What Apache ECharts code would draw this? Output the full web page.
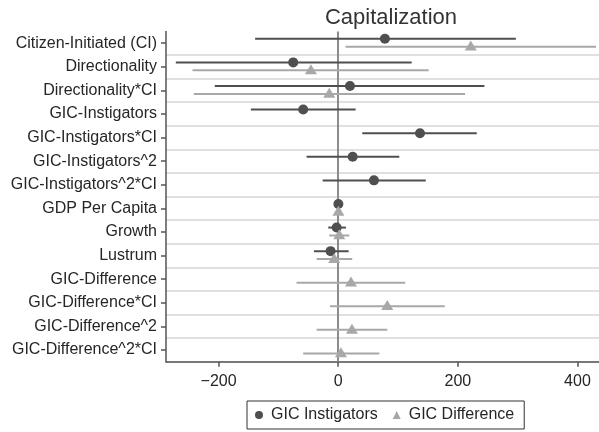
<!DOCTYPE html>
<html>
<head>
<meta charset="utf-8">
<script src="https://cdn.jsdelivr.net/npm/echarts@6/dist/echarts.min.js"></script>
<style>
  html, body { margin: 0; padding: 0; background: #fff; }
  #chart { width: 599px; height: 432px; }
</style>
</head>
<body>
<div id="chart"></div>
<script>
// Coefficient estimates with 95% confidence intervals (Capitalization model)
const categories = [
  'Citizen-Initiated (CI)', 'Directionality', 'Directionality*CI', 'GIC-Instigators',
  'GIC-Instigators*CI', 'GIC-Instigators^2', 'GIC-Instigators^2*CI', 'GDP Per Capita',
  'Growth', 'Lustrum', 'GIC-Difference', 'GIC-Difference*CI', 'GIC-Difference^2',
  'GIC-Difference^2*CI'
];

// Model with GIC Instigators
const instEst = [78, -75.3, 19.6, -58.6, 136.7, 24.1, 59.7, 0.2, -2.7, -12.8, null, null, null, null];
const instLo  = [-139, -271.6, -206.4, -146.1, 40.2, -52.9, -26.1, -1.5, -16.7, -40.7, null, null, null, null];
const instHi  = [297, 122.8, 244.4, 29.1, 231.6, 102.1, 146.3, 1.9, 12.9, 17.4, null, null, null, null];

// Model with GIC Difference
const diffEst = [221.6, -45.7, -15, null, null, null, null, 0.3, 1.7, -6.7, 21.3, 82, 22.9, 4.5];
const diffLo  = [12.4, -243.7, -241.5, null, null, null, null, -1.5, -15, -36.2, -69.7, -13.9, -36.2, -58.6];
const diffHi  = [431, 151.2, 212, null, null, null, null, 2, 18.4, 23.4, 112, 178, 82, 68.6];

const xTicks = [-200, 0, 200, 400];

const DARK = '#4f4f4f';
const LIGHT = '#a8a8a8';
const FONT = 'Liberation Sans, Arial, sans-serif';

// vertical shift of each model inside its row, as a share of the row height
const OFF_INST = -0.185;
const OFF_DIFF = 0.15;

function pointData(est) {
  const out = [];
  est.forEach((v, i) => { if (v !== null) out.push([v, i]); });
  return out;
}
function intervalData(lo, hi) {
  const out = [];
  lo.forEach((v, i) => { if (v !== null) out.push([v, hi[i], i]); });
  return out;
}
function intervalRenderer(color, shift) {
  return function (params, api) {
    const y = api.value(2);
    const a = api.coord([api.value(0), y]);
    const b = api.coord([api.value(1), y]);
    const band = api.size([0, 1])[1];
    const yy = a[1] + shift * band;
    return {
      type: 'line',
      shape: { x1: a[0], y1: yy, x2: b[0], y2: yy },
      style: { stroke: color, lineWidth: 2 }
    };
  };
}

const chart = echarts.init(document.getElementById('chart'), null, { renderer: 'canvas' });

chart.setOption({
  animation: false,
  backgroundColor: '#ffffff',
  textStyle: { fontFamily: FONT },
  title: {
    text: 'Capitalization',
    left: 386,
    textAlign: 'center',
    top: 2,
    textStyle: { fontFamily: FONT, fontSize: 22, fontWeight: 'normal', color: '#333333' }
  },
  legend: {
    data: [
      { name: 'GIC Instigators', icon: 'circle' },
      { name: 'GIC Difference', icon: 'triangle' }
    ],
    left: 247,
    top: 401,
    orient: 'horizontal',
    itemWidth: 8,
    itemHeight: 8,
    itemGap: 15,
    padding: [6, 10, 6, 8],
    borderColor: '#333333',
    borderWidth: 1,
    textStyle: { fontFamily: FONT, fontSize: 16, color: '#262626', padding: [0, 0, 0, 3] }
  },
  grid: { left: 166, right: 0, top: 31.4, bottom: 70.3, containLabel: false },
  xAxis: {
    type: 'value',
    min: -288,
    max: 436,
    axisLine: { show: true, onZero: false, lineStyle: { color: '#555555', width: 1.5 } },
    axisTick: { show: true, length: 5, customValues: xTicks, lineStyle: { color: '#555555', width: 1.5 } },
    axisLabel: {
      customValues: xTicks,
      margin: 12,
      fontFamily: FONT,
      fontSize: 16,
      color: '#262626',
      formatter: v => String(v).replace('-', '\u2212')
    },
    splitLine: { show: false }
  },
  yAxis: {
    type: 'category',
    data: categories,
    inverse: true,
    boundaryGap: true,
    axisLine: { show: true, onZero: false, lineStyle: { color: '#555555', width: 1.5 } },
    axisTick: { show: true, length: 5, alignWithLabel: true, lineStyle: { color: '#555555', width: 1.5 } },
    axisLabel: { margin: 9, fontFamily: FONT, fontSize: 16, color: '#262626', interval: 0 },
    splitLine: {
      show: true,
      interval: function (index) { return index > 0; },
      lineStyle: { color: '#d6d6d6', width: 1.5 }
    }
  },
  series: [
    {
      name: 'GIC Instigators CI',
      type: 'custom',
      renderItem: intervalRenderer(DARK, OFF_INST),
      encode: { x: [0, 1], y: 2 },
      data: intervalData(instLo, instHi),
      z: 3,
      silent: true
    },
    {
      name: 'GIC Difference CI',
      type: 'custom',
      renderItem: intervalRenderer(LIGHT, OFF_DIFF),
      encode: { x: [0, 1], y: 2 },
      data: intervalData(diffLo, diffHi),
      z: 3,
      silent: true
    },
    {
      name: 'GIC Instigators',
      type: 'scatter',
      symbol: 'circle',
      symbolSize: 10,
      symbolOffset: [0, -4.4],
      itemStyle: { color: DARK, opacity: 1 },
      data: pointData(instEst),
      z: 5,
      markLine: {
        silent: true,
        symbol: 'none',
        label: { show: false },
        lineStyle: { color: '#8c8c8c', width: 2, type: 'solid', opacity: 1 },
        data: [{ xAxis: 0 }],
        z: 2
      }
    },
    {
      name: 'GIC Difference',
      type: 'scatter',
      symbol: 'triangle',
      symbolSize: [12, 10],
      symbolOffset: [0, 2.4],
      itemStyle: { color: LIGHT, opacity: 1 },
      data: pointData(diffEst),
      z: 5
    }
  ]
});
</script>
</body>
</html>
